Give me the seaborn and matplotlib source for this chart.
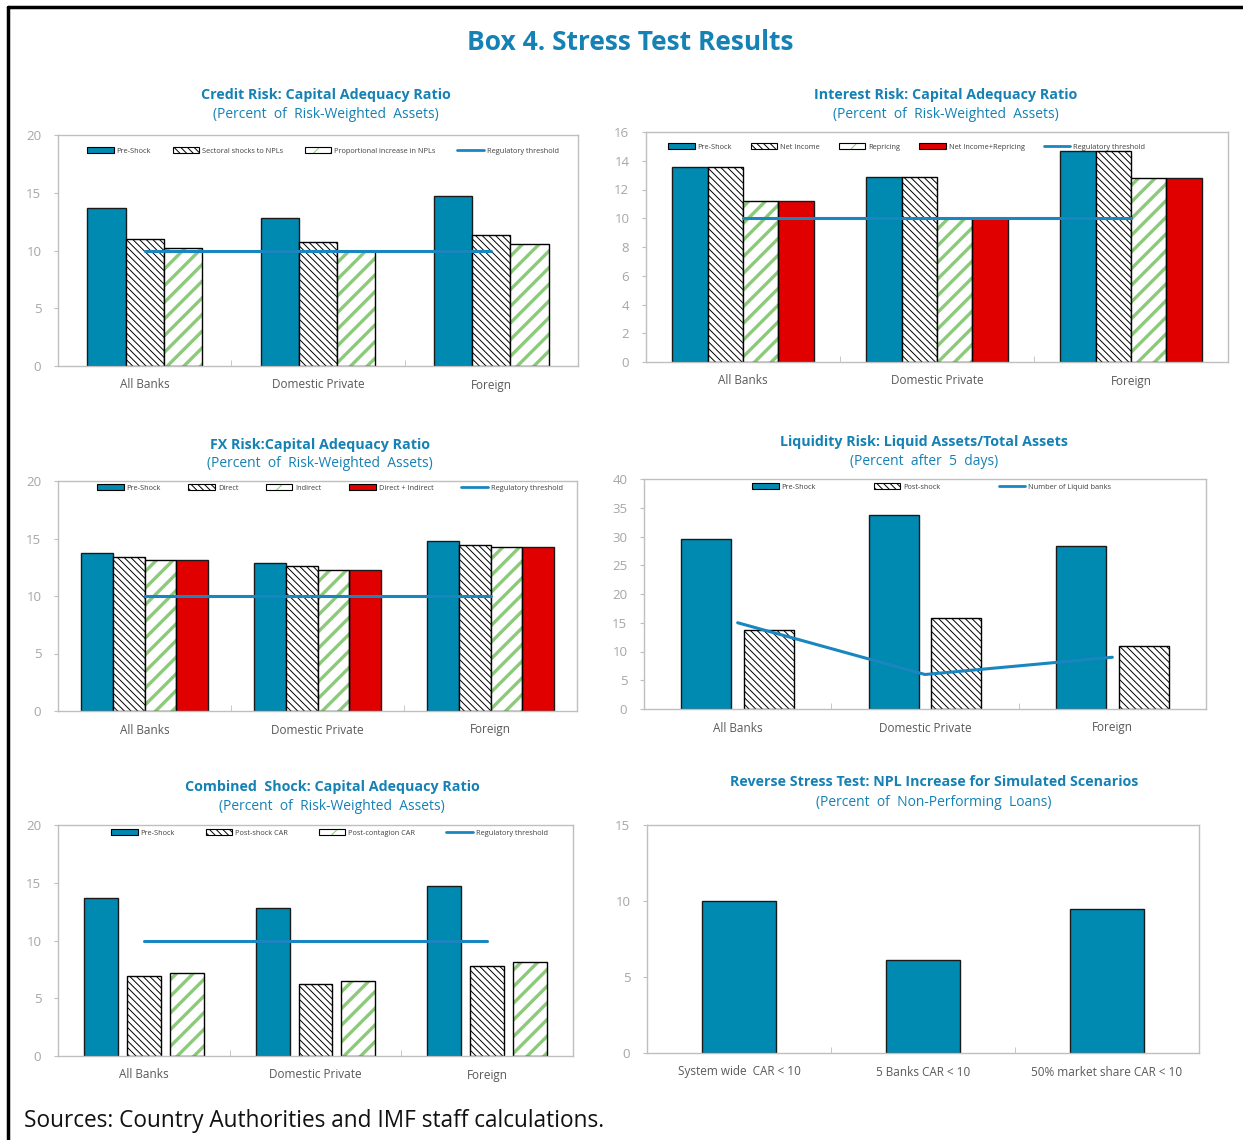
import numpy as np
import pandas as pd
import matplotlib
matplotlib.use("Agg")
import matplotlib.pyplot as plt
from matplotlib.patches import Patch, Rectangle
from matplotlib.lines import Line2D
from matplotlib.legend_handler import HandlerTuple
import seaborn as sns

# ---------------- data ----------------
cats = ["All Banks", "Domestic Private", "Foreign"]
threshold = [10, 10, 10]

credit_series = ["Pre-Shock", "Sectoral shocks to NPLs", "Proportional increase in NPLs"]
credit_pre = [13.65, 12.85, 14.7]
credit_sectoral = [11.0, 10.75, 11.3]
credit_prop = [10.25, 9.95, 10.6]

interest_series = ["Pre-Shock", "Net Income", "Repricing", "Net Income+Repricing"]
interest_pre = [13.6, 12.85, 14.7]
interest_ni = [13.6, 12.85, 14.7]
interest_rep = [11.2, 10.05, 12.8]
interest_both = [11.2, 10.05, 12.8]

fx_series = ["Pre-Shock", "Direct", "Indirect", "Direct + Indirect"]
fx_pre = [13.7, 12.9, 14.75]
fx_direct = [13.4, 12.6, 14.45]
fx_indirect = [13.1, 12.3, 14.25]
fx_both = [13.1, 12.3, 14.25]

liq_series = ["Pre-Shock", "Post-shock"]
liq_pre = [29.6, 33.8, 28.3]
liq_post = [13.7, 15.8, 10.95]
liq_banks = [15, 6, 9]

comb_series = ["Pre-Shock", "Post-shock CAR", "Post-contagion CAR"]
comb_pre = [13.65, 12.85, 14.7]
comb_post = [6.95, 6.25, 7.75]
comb_cont = [7.15, 6.5, 8.1]

rev_cats = ["System wide  CAR < 10", "5 Banks CAR < 10", "50% market share CAR < 10"]
rev_vals = [10.0, 6.1, 9.45]

# ---------------- style ----------------
sns.set_style("white")
plt.rcParams["font.family"] = ["Open Sans", "DejaVu Sans"]
plt.rcParams["hatch.linewidth"] = 0.7

W, H = 1243, 1140
TEAL = "#0089B1"
RED = "#E00000"
GREEN = "#8CC97A"
TITLE = "#1581B4"
LINE = "#1A86C0"
SPINE = "#BFBFBF"
YTICK = "#A6A6A6"
XTICK = "#595959"
BLACK_HATCH = "\\\\\\\\\\"
GREEN_HATCH = "//"

fig = plt.figure(figsize=(W / 100, H / 100), dpi=100)


def add_ax(l, t, r, b):
    ax = fig.add_axes([l / W, 1 - b / H, (r - l) / W, (b - t) / H])
    ax._box_px = (l, t, r, b)
    return ax


def fig_text(x, y, s, **kw):
    fig.text(x / W, 1 - y / H, s, ha="center", va="center", **kw)


def bars(ax, series, values, kinds, width, gap=0.0):
    df = pd.DataFrame({
        "cat": np.tile(cats, len(series)),
        "series": np.repeat(series, len(cats)),
        "val": np.concatenate(values),
    })
    sns.barplot(data=df, x="cat", y="val", hue="series", hue_order=series,
                palette=["white"] * len(series), width=width, gap=gap,
                edgecolor="black", linewidth=1.0, legend=False, ax=ax,
                errorbar=None, zorder=2)
    for cont, kind in zip(ax.containers, kinds):
        for p in cont.patches:
            if kind == "green":
                p.set_facecolor("white")
                p.set_hatch(GREEN_HATCH)
                p.set_edgecolor(GREEN)
                p.set_linewidth(0)
                p._hatch_linewidth = 2.4
                ax.add_patch(Rectangle((p.get_x(), p.get_y()), p.get_width(), p.get_height(),
                                       fill=False, edgecolor="black", linewidth=1.0, zorder=2.1))
            elif kind == "black":
                p.set_facecolor("white")
                p.set_hatch(BLACK_HATCH)
                p.set_edgecolor("black")
            elif kind == "red":
                p.set_facecolor(RED)
                p.set_edgecolor("#1a1a1a")
            else:
                p.set_facecolor(TEAL)
                p.set_edgecolor("#1a1a1a")


def handle(kind):
    if kind == "solid":
        return Patch(facecolor=TEAL, edgecolor="black", linewidth=0.8)
    if kind == "red":
        return Patch(facecolor=RED, edgecolor="black", linewidth=0.8)
    if kind == "black":
        return Patch(facecolor="white", edgecolor="black", hatch=BLACK_HATCH, linewidth=0.8)
    if kind == "green":
        h1 = Patch(facecolor="white", edgecolor=GREEN, hatch=GREEN_HATCH, linewidth=0)
        h1._hatch_linewidth = 1.6
        h2 = Patch(fill=False, edgecolor="black", linewidth=0.8)
        return (h1, h2)
    if kind == "line":
        return Line2D([0], [0], color=LINE, linewidth=2)


def legend(ax, labels, kinds, x0, yc, colsp=2.5, zorder=5):
    l, t, r, b = ax._box_px
    hs = [handle(k) for k in kinds]
    leg = ax.legend(hs, labels, loc="center left",
                    bbox_to_anchor=((x0 - l) / (r - l), (b - yc) / (b - t)),
                    ncol=len(labels), frameon=False, fontsize=5.3,
                    handlelength=3.6, handleheight=0.75, handletextpad=0.4,
                    columnspacing=colsp, borderaxespad=0.0, borderpad=0.0,
                    handler_map={tuple: HandlerTuple(ndivide=1, pad=0)})
    for t_ in leg.get_texts():
        t_.set_color("#404040")
    leg.set_zorder(zorder)


def style_ax(ax, ylim, yticks, ncat=3):
    ax.set_xlim(-0.5, ncat - 0.5)
    ax.set_ylim(*ylim)
    ax.set_yticks(yticks)
    ax.set_xlabel("")
    ax.set_ylabel("")
    for s in ax.spines.values():
        s.set_visible(True)
        s.set_color(SPINE)
        s.set_linewidth(1.0)
    ax.tick_params(axis="y", which="major", length=3, color=SPINE, direction="out",
                   labelsize=9.5, labelcolor=YTICK, pad=9, left=True)
    ax.tick_params(axis="x", which="major", length=0, labelsize=8.5,
                   labelcolor=XTICK, pad=9)
    ax.set_xticks(np.arange(ncat) + 0.5, minor=True)
    ax.tick_params(axis="x", which="minor", length=4, color=SPINE, direction="in", bottom=True)
    ax.grid(False)


def threshold_line(ax, vals):
    sns.pointplot(x=cats, y=vals, color=LINE, marker="", linewidth=2.2,
                  errorbar=None, ax=ax, zorder=3)


# ---------------- main title & frame ----------------
fig_text(630, 42, "Box 4. Stress Test Results", fontsize=19, fontweight="bold", color=TITLE)
fig.add_artist(Line2D([8 / W, 1], [1 - 7 / H, 1 - 7 / H], color="black", linewidth=2.5))
fig.add_artist(Line2D([8 / W, 8 / W], [1 - 7 / H, 0], color="black", linewidth=2.5))
fig.text(24 / W, 1 - 1121 / H, "Sources: Country Authorities and IMF staff calculations.",
         ha="left", va="center", fontsize=16.3, color="#111111")

tkw = dict(fontsize=10.3, fontweight="bold", color=TITLE)
skw = dict(fontsize=10, color=TITLE)

# ---------------- panel 1: credit ----------------
ax1 = add_ax(58, 135, 578, 366)
bars(ax1, credit_series, [credit_pre, credit_sectoral, credit_prop],
     ["solid", "black", "green"], width=0.66)
threshold_line(ax1, threshold)
style_ax(ax1, (0, 20), [0, 5, 10, 15, 20])
legend(ax1, credit_series + ["Regulatory threshold"], ["solid", "black", "green", "line"],
       x0=87, yc=151, colsp=2.95)
fig_text(326, 95, "Credit Risk: Capital Adequacy Ratio", **tkw)
fig_text(326, 115, "(Percent  of  Risk-Weighted  Assets)", **skw)

# ---------------- panel 2: interest ----------------
ax2 = add_ax(646, 132, 1228, 362)
bars(ax2, interest_series, [interest_pre, interest_ni, interest_rep, interest_both],
     ["solid", "black", "green", "red"], width=0.73)
threshold_line(ax2, threshold)
style_ax(ax2, (0, 16), list(range(0, 17, 2)))
legend(ax2, interest_series + ["Regulatory threshold"], ["solid", "black", "green", "red", "line"],
       x0=668, yc=147, colsp=2.57, zorder=0)
fig_text(946, 95, "Interest Risk: Capital Adequacy Ratio", **tkw)
fig_text(946, 115, "(Percent  of  Risk-Weighted  Assets)", **skw)

# ---------------- panel 3: FX ----------------
ax3 = add_ax(58, 481, 577, 711)
bars(ax3, fx_series, [fx_pre, fx_direct, fx_indirect, fx_both],
     ["solid", "black", "green", "red"], width=0.73)
threshold_line(ax3, threshold)
style_ax(ax3, (0, 20), [0, 5, 10, 15, 20])
legend(ax3, fx_series + ["Regulatory threshold"], ["solid", "black", "green", "red", "line"],
       x0=97, yc=488, colsp=3.75)
fig_text(320, 445, "FX Risk:Capital Adequacy Ratio", **tkw)
fig_text(320, 464, "(Percent  of  Risk-Weighted  Assets)", **skw)

# ---------------- panel 4: liquidity ----------------
ax4 = add_ax(644, 479, 1206, 709)
bars(ax4, liq_series, [liq_pre, liq_post], ["solid", "black"], width=0.667, gap=0.2)
sns.pointplot(x=cats, y=liq_banks, color=LINE, marker="", linewidth=2.2,
              errorbar=None, ax=ax4, zorder=3)
style_ax(ax4, (0, 40), list(range(0, 41, 5)))
legend(ax4, liq_series + ["Number of Liquid banks"], ["solid", "black", "line"],
       x0=752, yc=487, colsp=7.9)
fig_text(924, 442, "Liquidity Risk: Liquid Assets/Total Assets", **tkw)
fig_text(924, 462, "(Percent  after  5  days)", **skw)

# ---------------- panel 5: combined ----------------
ax5 = add_ax(58, 825, 573, 1056)
bars(ax5, comb_series, [comb_pre, comb_post, comb_cont], ["solid", "black", "green"],
     width=0.75, gap=0.21)
threshold_line(ax5, threshold)
style_ax(ax5, (0, 20), [0, 5, 10, 15, 20])
legend(ax5, comb_series + ["Regulatory threshold"], ["solid", "black", "green", "line"],
       x0=111, yc=833, colsp=4.2)
fig_text(332, 787, "Combined  Shock: Capital Adequacy Ratio", **tkw)
fig_text(332, 806, "(Percent  of  Risk-Weighted  Assets)", **skw)

# ---------------- panel 6: reverse stress ----------------
ax6 = add_ax(647, 825, 1199, 1053)
sns.barplot(x=rev_cats, y=rev_vals, color=TEAL, saturation=1, width=0.4,
            edgecolor="#1a1a1a", linewidth=1.0, errorbar=None, ax=ax6, zorder=2)
style_ax(ax6, (0, 15), [0, 5, 10, 15])
fig_text(934, 782, "Reverse Stress Test: NPL Increase for Simulated Scenarios", **tkw)
fig_text(934, 802, "(Percent  of  Non-Performing  Loans)", **skw)

fig.savefig("out.png", dpi=100)
